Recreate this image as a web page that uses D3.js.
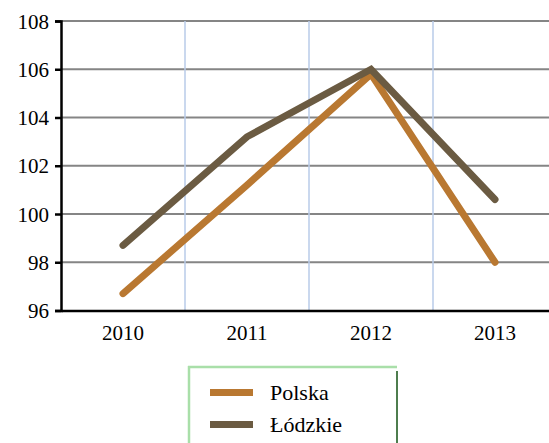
<!DOCTYPE html>
<html><head><meta charset="utf-8">
<script src="https://cdn.jsdelivr.net/npm/d3@7"></script>
</head><body style="margin:0">
<svg id="c" width="549" height="443" style="display:block;font-family:'Liberation Serif'"></svg>
<script>
const categories = ["2010","2011","2012","2013"];
const polska = [96.7, 101.2, 105.8, 98.0];
const lodzkie = [98.7, 103.2, 106.0, 100.6];
const yTicks = [96, 98, 100, 102, 104, 106, 108];
const seriesNames = ["Polska", "Łódzkie"];
const seriesColors = ["#B97831", "#6B5B42"];
const FONT = "'Liberation Serif'";

const svg = d3.select("#c");
const x = d3.scaleBand().domain(categories).range([61, 557]).padding(0);
const y = d3.scaleLinear().domain([96, 108]).range([310.5, 21]);

// horizontal gridlines
svg.append("g").selectAll("line").data(yTicks.filter(d => d > 96)).join("line")
  .attr("x1", 61).attr("x2", 549)
  .attr("y1", d => y(d)).attr("y2", d => y(d))
  .attr("stroke", "#858585").attr("stroke-width", 2);

// vertical lines between categories
svg.append("g").selectAll("line").data(categories.slice(1)).join("line")
  .attr("x1", d => x(d)).attr("x2", d => x(d))
  .attr("y1", y(108)).attr("y2", y(96))
  .attr("stroke", "#B9CBE8").attr("stroke-width", 1.5);

// y axis
const yAxis = d3.axisLeft(y).tickValues(yTicks).tickSize(6).tickPadding(6).tickFormat(d3.format("d"));
const gy = svg.append("g").attr("transform", "translate(61,0)").call(yAxis)
  .attr("font-family", null).attr("font-size", null);
gy.select(".domain").attr("stroke", "#000").attr("stroke-width", 2.5);
gy.selectAll(".tick line").attr("stroke", "#000").attr("stroke-width", 2.5);
gy.selectAll("text").style("font-family", FONT).style("font-size", "21px").attr("fill", "#000").attr("dy", "0.34em");

// x axis
const xAxis = d3.axisBottom(x).tickSize(0).tickPadding(15);
const gx = svg.append("g").attr("transform", `translate(0,${y(96)})`).call(xAxis)
  .attr("font-family", null).attr("font-size", null);
gx.select(".domain").attr("stroke", "#000").attr("stroke-width", 2.5);
gx.selectAll("text").style("font-family", FONT).style("font-size", "21px").attr("fill", "#000");

// lines
const line = d3.line().x((d, i) => x(categories[i]) + x.bandwidth() / 2).y(d => y(d));
[polska, lodzkie].forEach((s, k) => {
  svg.append("path").datum(s).attr("d", line)
    .attr("fill", "none").attr("stroke", seriesColors[k])
    .attr("stroke-width", 7).attr("stroke-linecap", "round").attr("stroke-linejoin", "miter");
});

// legend
const lg = svg.append("g");
lg.append("line").attr("x1", 189).attr("x2", 189).attr("y1", 366).attr("y2", 443)
  .attr("stroke", "#A9DFA9").attr("stroke-width", 2.5);
lg.append("line").attr("x1", 188).attr("x2", 397).attr("y1", 367).attr("y2", 367)
  .attr("stroke", "#A9DFA9").attr("stroke-width", 2.5);
lg.append("line").attr("x1", 397).attr("x2", 397).attr("y1", 371).attr("y2", 443)
  .attr("stroke", "#4E7D4E").attr("stroke-width", 2);
seriesNames.forEach((n, k) => {
  const yy = 392.5 + k * 32;
  lg.append("line").attr("x1", 210).attr("x2", 253).attr("y1", yy).attr("y2", yy)
    .attr("stroke", seriesColors[k]).attr("stroke-width", 7);
  lg.append("text").attr("x", 270).attr("y", yy + 7).text(n)
    .style("font-family", FONT).style("font-size", "22px").attr("fill", "#000");
});
</script>
</body></html>
